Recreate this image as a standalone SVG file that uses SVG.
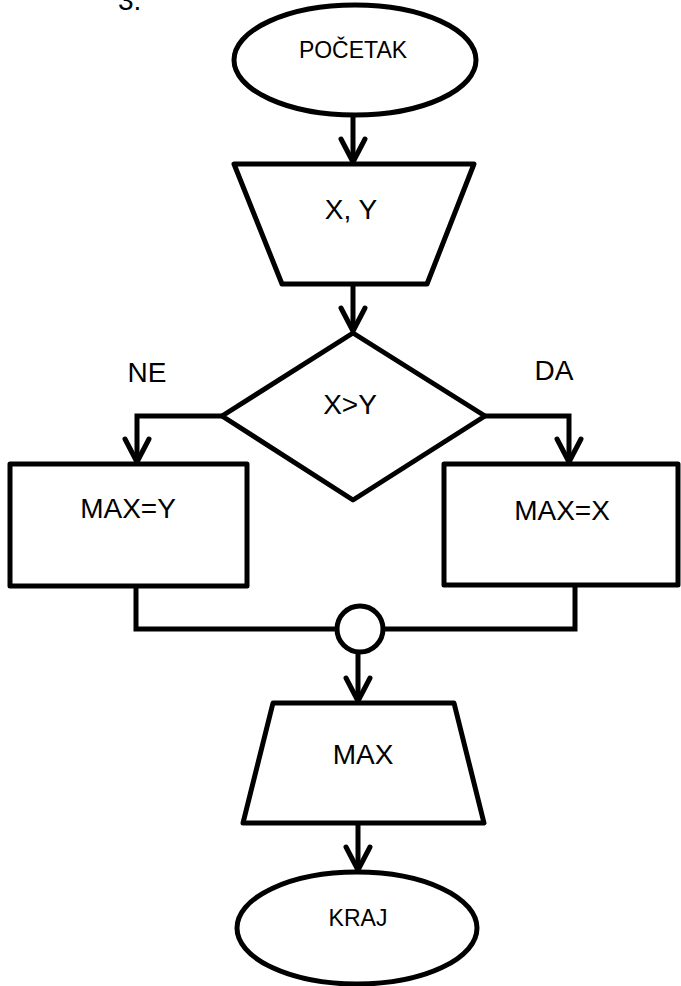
<svg xmlns="http://www.w3.org/2000/svg" width="681" height="986" viewBox="0 0 681 986">
<style>
.s{fill:#fff;stroke:#000;stroke-width:5;stroke-linejoin:round}
.c{fill:none;stroke:#000;stroke-width:5;stroke-linejoin:miter}
.t{font-family:"Liberation Sans",Arial,sans-serif;font-size:28px;fill:#000;text-anchor:middle}
.e{font-size:23px}
</style>
<defs>
<marker id="ah" markerUnits="userSpaceOnUse" orient="auto" markerWidth="40" markerHeight="40" refX="0" refY="0" overflow="visible">
<path d="M-23,-12 L0,0 L-23,12" fill="none" stroke="#000" stroke-width="5" stroke-linecap="round" stroke-linejoin="round"/>
</marker>
</defs>
<rect width="681" height="986" fill="#fff"/>
<text class="t" x="118" y="9.5" style="text-anchor:start">3.</text>
<g id="start">
<ellipse class="s" cx="355" cy="60" rx="121" ry="55"/>
<text class="t e" x="353" y="58">POČETAK</text>
</g>
<g id="input">
<polygon class="s" points="234,164 474,164 427,284 282,284"/>
<text class="t" x="351" y="219">X, Y</text>
</g>
<g id="decision">
<polygon class="s" points="353,333 485,416 353,500 222,416"/>
<text class="t" x="350" y="414">X&gt;Y</text>
</g>
<g id="maxy">
<rect class="s" x="10" y="464" width="237" height="122"/>
<text class="t" x="128" y="518">MAX=Y</text>
</g>
<g id="maxx">
<rect class="s" x="444" y="464" width="234" height="121"/>
<text class="t" x="562" y="520">MAX=X</text>
</g>
<g id="merge">
<circle class="s" cx="360" cy="629" r="23"/>
</g>
<g id="output">
<polygon class="s" points="273,703 454,703 484,823 243,823"/>
<text class="t" x="363" y="764">MAX</text>
</g>
<g id="end">
<ellipse class="s" cx="357" cy="928" rx="120" ry="56"/>
<text class="t e" x="358" y="926">KRAJ</text>
</g>
<g id="labels">
<text class="t" x="147" y="382">NE</text>
<text class="t" x="554" y="380">DA</text>
</g>
<g id="connectors">
<path class="c" d="M353,115 V162" marker-end="url(#ah)"/>
<path class="c" d="M353,284 V331" marker-end="url(#ah)"/>
<path class="c" d="M222,416 H137 V462" marker-end="url(#ah)"/>
<path class="c" d="M485,416 H569 V462" marker-end="url(#ah)"/>
<path class="c" d="M136,586 V629 H337"/>
<path class="c" d="M383,629 H575 V585"/>
<path class="c" d="M358,652 V701" marker-end="url(#ah)"/>
<path class="c" d="M358,823 V870" marker-end="url(#ah)"/>
</g>
</svg>
